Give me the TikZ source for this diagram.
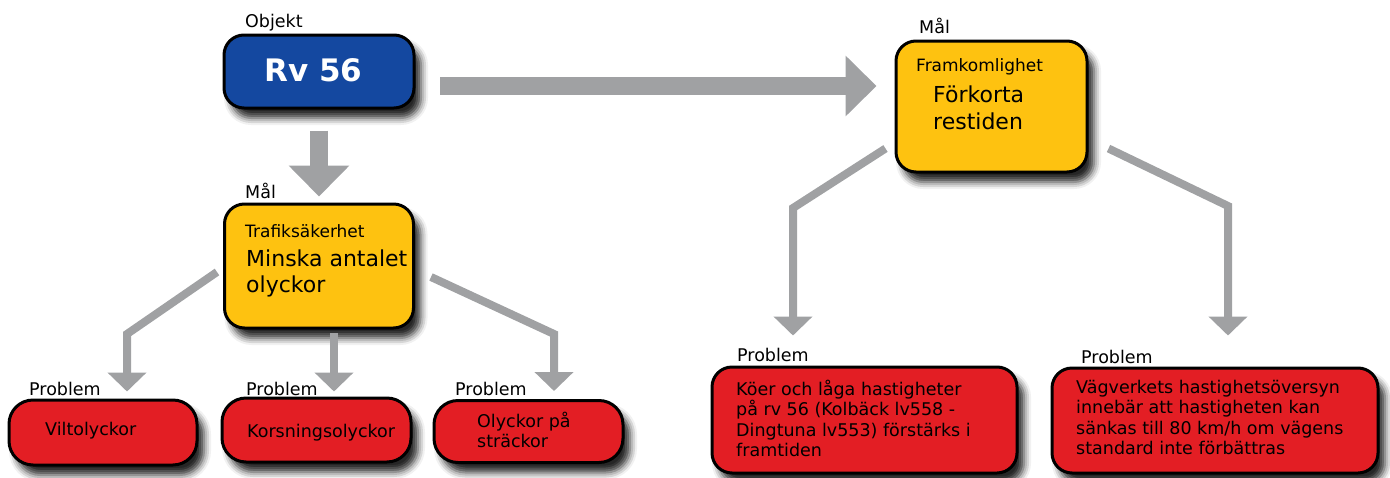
\documentclass[tikz,border=0pt]{standalone}
\usepackage{fontspec}
\setmainfont{DejaVu Sans}
\usetikzlibrary{arrows.meta,shadows.blur,calc}

\definecolor{objblue}{RGB}{20,72,160}
\definecolor{goalyellow}{RGB}{254,194,16}
\definecolor{probred}{RGB}{227,30,36}
\definecolor{arrowgray}{RGB}{160,161,163}

\tikzset{
  box/.style={draw=black, line width=3pt, rounded corners=20pt, inner sep=0pt,
    blur shadow={shadow xshift=7pt, shadow yshift=-10pt, shadow blur radius=7pt, shadow opacity=85}},
  objbox/.style={box, fill=objblue},
  goalbox/.style={box, fill=goalyellow},
  probbox/.style={box, fill=probred},
  smallprob/.style={probbox, rounded corners=24pt},
  tag/.style={anchor=base west, inner sep=0pt, font=\fontsize{17.5}{20}\selectfont},
  goalhead/.style={anchor=base west, inner sep=0pt, font=\fontsize{17}{20}\selectfont},
  % multi-line texts are placed by the baseline of their last line
  goaltext/.style={anchor=base west, inner sep=0pt, align=left, font=\fontsize{22}{26.5}\selectfont},
  probtext/.style={anchor=base west, inner sep=0pt, align=left, font=\fontsize{17.5}{20.5}\selectfont},
  bigarrow/.style={draw=arrowgray, line width=18pt, -{Triangle[width=59pt,length=31pt]}},
  thinarrow/.style={draw=arrowgray, line width=8pt, line join=miter, -{Triangle[width=38pt,length=19pt]}}
}

\begin{document}
\begin{tikzpicture}[x=1pt, y=-1pt]
\useasboundingbox (0,0) rectangle (1390,477);

% bend points of the connectors
\coordinate (hstart) at (440,86);
\coordinate (b1) at (127,334);
\coordinate (b2) at (334,333);
\coordinate (b3) at (554,334);
\coordinate (b4) at (793,208);
\coordinate (b5) at (1228,206);

% boxes
\node[objbox, minimum width=190pt, minimum height=73pt] (rv) at (319,71.5) {};
\node[goalbox, minimum width=189pt, minimum height=124pt] (tr) at (319,266) {};
\node[goalbox, minimum width=191pt, minimum height=131pt] (fr) at (991.5,106.5) {};
\node[smallprob, minimum width=188pt, minimum height=65pt] (vi) at (103,432.5) {};
\node[smallprob, minimum width=189pt, minimum height=64pt] (ko) at (316.5,430) {};
\node[smallprob, minimum width=189pt, minimum height=62pt] (ol) at (528.5,431.5) {};
\node[probbox, minimum width=305pt, minimum height=106pt] (kq) at (864.5,420) {};
\node[probbox, minimum width=326pt, minimum height=105pt] (vv) at (1215,420.5) {};

% arrows
\draw[bigarrow] (hstart) -- ($(hstart -| fr.west)+(-18,0)$);
\draw[bigarrow] ($(rv.south)+(0,21)$) -- ($(tr.north)+(0,-6)$);
\draw[thinarrow] ($(tr.west)+(-6,6)$) -- (b1) -- ($(b1 |- vi.north)+(0,-7)$);
\draw[thinarrow] (b2) -- ($(b2 |- ko.north)+(0,-5)$);
\draw[thinarrow] ($(tr.east)+(16,11)$) -- (b3) -- ($(b3 |- ol.north)+(0,-8)$);
\draw[thinarrow] ($(fr.west)+(-9,42)$) -- (b4) -- ($(b4 |- kq.north)+(0,-30)$);
\draw[thinarrow] ($(fr.east)+(20,42)$) -- (b5) -- ($(b5 |- vv.north)+(0,-31)$);

% labels above the boxes
\node[tag] (l-obj) at (245,27) {Objekt};
\node[tag] (l-mal1) at (245,198) {Mål};
\node[tag] (l-mal2) at (919,33) {Mål};
\node[tag] (l-p1) at (29,395) {Problem};
\node[tag] (l-p2) at (246,395) {Problem};
\node[tag] (l-p3) at (455,395) {Problem};
\node[tag] (l-p4) at (737,361) {Problem};
\node[tag] (l-p5) at (1081,363) {Problem};

% object text
\node[anchor=base, inner sep=0pt, text=white, font=\fontsize{31}{36}\selectfont\bfseries]
  (t-rv) at (313.5,81) {Rv 56};

% texts inside the goal boxes
\node[goalhead] (t-tr1) at (245,237) {Trafiksäkerhet};
\node[goaltext] (t-tr2) at (246,292.5) {Minska antalet\\olyckor};
\node[goalhead] (t-fr1) at (916,71) {Framkomlighet};
\node[goaltext] (t-fr2) at (933,129) {Förkorta\\restiden};

% texts inside the problem boxes
\node[probtext] (t-vi) at (45,435) {Viltolyckor};
\node[probtext] (t-ko) at (247,437) {Korsningsolyckor};
\node[probtext] (t-ol) at (477,447.5) {Olyckor på\\sträckor};
\node[probtext] (t-kq) at (736,456.5) {Köer och låga hastigheter\\på rv 56 (Kolbäck lv558 -\\Dingtuna lv553) förstärks i\\framtiden};
\node[probtext] (t-vv) at (1076,454.5) {Vägverkets hastighetsöversyn\\innebär att hastigheten kan\\sänkas till 80 km/h om vägens\\standard inte förbättras};
\end{tikzpicture}
\end{document}
